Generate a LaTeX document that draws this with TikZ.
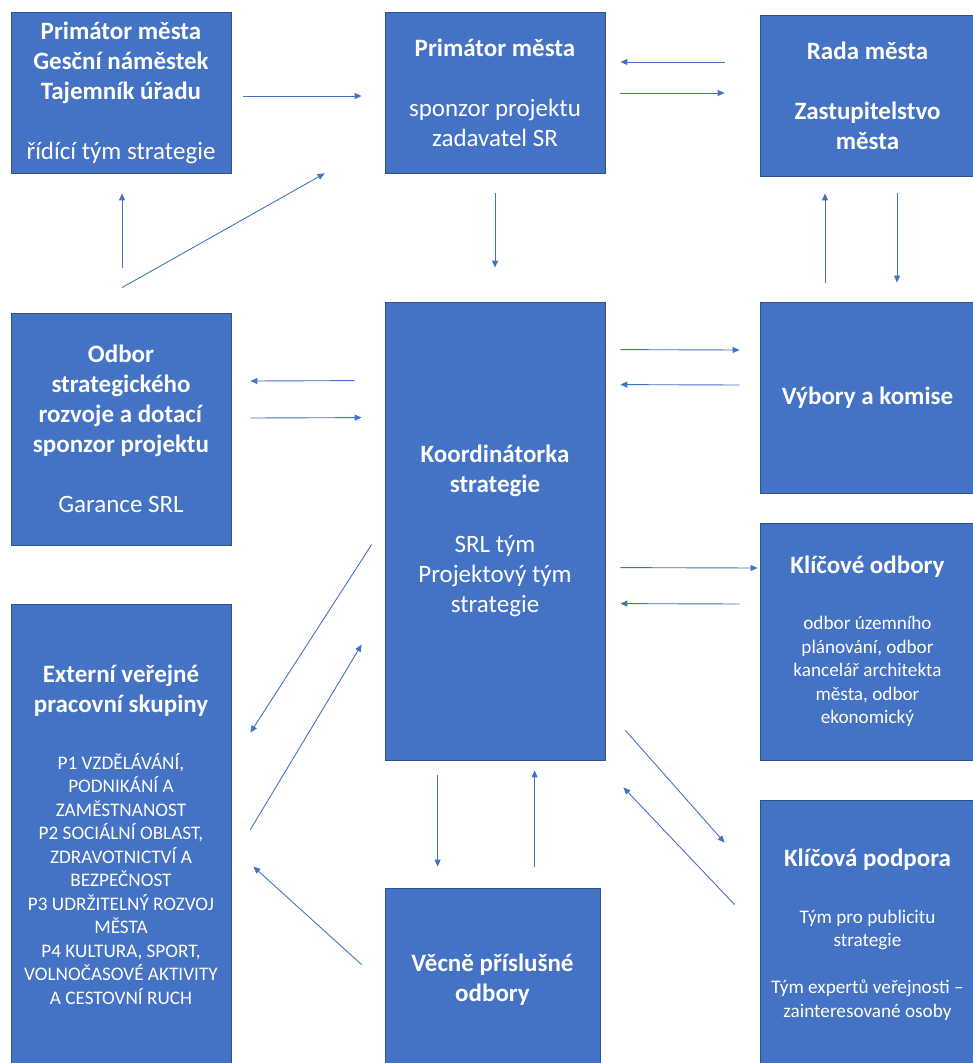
\documentclass[tikz,border=0pt]{standalone}
\usepackage{fontspec}
\setmainfont{Carlito}
\usetikzlibrary{arrows.meta}
\definecolor{boxblue}{HTML}{4472C4}
\definecolor{boxline}{HTML}{2F528F}
\definecolor{arrblue}{HTML}{4472C4}
\newcommand\BigTxt{\fontsize{25}{30}\selectfont}
\newcommand\SmallTxt{\fontsize{19.2}{23.5}\selectfont}
\begin{document}
\begin{tikzpicture}[x=1pt,y=-1pt,
  box/.style={draw=boxline, fill=boxblue, line width=0.8pt, text=white, inner sep=0pt, align=flush center, font=\BigTxt},
  lbox/.style={box, minimum width=220pt, text width=216pt},
  rbox/.style={box, minimum width=215pt, text width=212pt},
  arr/.style={draw=arrblue, line width=0.9pt, -{Triangle[length=7pt,width=6pt]}}]
\useasboundingbox (0,0) rectangle (972,1063);

\node[lbox, minimum height=161pt] (A) at (121,92.5)
  {\textbf{Primátor města}\\\textbf{Gesční náměstek}\\\textbf{Tajemník úřadu}\\[30pt]řídící tým strategie};
\node[lbox, minimum height=161pt] (B) at (495,92.5)
  {\textbf{Primátor města}\\[30pt]sponzor projektu\\zadavatel SR};
\node[rbox, minimum height=161pt] (C) at (867.5,95.5)
  {\bfseries Rada města\\[30pt]Zastupitelstvo\\města};
\node[lbox, minimum height=232pt] (D) at (121,429)
  {\textbf{Odbor}\\\textbf{strategického}\\\textbf{rozvoje a dotací}\\\textbf{sponzor projektu}\\[30pt]Garance SRL};
\node[lbox, minimum height=458pt] (E) at (495,531)
  {\textbf{Koordinátorka}\\\textbf{strategie}\\[30pt]SRL tým\\Projektový tým\\strategie};
\node[rbox, minimum height=191pt] (F) at (867.5,397.5)
  {\bfseries Výbory a komise};
\node[rbox, minimum height=237pt] (G) at (867.5,641.5)
  {{\bfseries Klíčové odbory\par}\vspace{33pt}{\SmallTxt odbor územního\\plánování, odbor\\kancelář architekta\\města, odbor\\ekonomický\par}};
\node[lbox, minimum height=462pt] (H) at (121,835)
  {{\bfseries Externí veřejné\\pracovní skupiny\par}\vspace{33pt}{\SmallTxt P1 VZDĚLÁVÁNÍ,\\PODNIKÁNÍ A\\ZAMĚSTNANOST\\P2 SOCIÁLNÍ OBLAST,\\ZDRAVOTNICTVÍ A\\BEZPEČNOST\\P3 UDRŽITELNÝ ROZVOJ\\MĚSTA\\P4 KULTURA, SPORT,\\VOLNOČASOVÉ AKTIVITY\\A CESTOVNÍ RUCH\par}};
\node[box, minimum width=215pt, text width=212pt, minimum height=184pt] (I) at (492.5,980)
  {\bfseries Věcně příslušné\\odbory};
\node[rbox, minimum height=270pt] (J) at (867.5,935)
  {{\bfseries Klíčová podpora\par}\vspace{33pt}{\SmallTxt Tým pro publicitu\\strategie\\[23.5pt]Tým expertů veřejnosti –\\zainteresované osoby\par}};

% arrows
\draw[arr] ([shift={(12,3.5)}]A.east) -- ([shift={(-23,3.5)}]B.west);
\draw[arr] ([shift={(-35,-33.5)}]C.west) -- ([shift={(15,-30.5)}]B.east);
\draw[arr] ([shift={(15,0.5)}]B.east) -- ([shift={(-35,-2.5)}]C.west);
\draw[arr] ([shift={(0,20)}]B.south) -- ([shift={(0,-34)}]E.north);
\draw[arr] ([shift={(1,-45)}]D.north) -- ([shift={(1,20)}]A.south);
\draw[arr] ([shift={(1,-25)}]D.north) -- ([shift={(-60,0)}]B.south west);
\draw[arr] ([shift={(-42.5,-19)}]F.north) -- ([shift={(-42.5,17)}]C.south);
\draw[arr] ([shift={(29.5,17)}]C.south) -- ([shift={(29.5,-19)}]F.north);
\draw[arr] ([shift={(15,48)}]E.north east) -- ([shift={(-20,-47.5)}]F.west);
\draw[arr] ([shift={(-20,-12.5)}]F.west) -- ([shift={(15,83)}]E.north east);
\draw[arr] ([shift={(-30,79)}]E.north west) -- ([shift={(19,-48)}]D.east);
\draw[arr] ([shift={(19,-11)}]D.east) -- ([shift={(-23,116)}]E.north west);
\draw[arr] ([shift={(15,266)}]E.north east) -- ([shift={(-2,-73.5)}]G.west);
\draw[arr] ([shift={(-20,-37.5)}]G.west) -- ([shift={(15,302)}]E.north east);
\draw[arr] ([shift={(-13,243)}]E.north west) -- ([shift={(19,129)}]H.north east);
\draw[arr] ([shift={(19,226)}]H.north east) -- ([shift={(-23,343)}]E.north west);
\draw[arr] ([shift={(-23,77)}]I.north west) -- ([shift={(22,263)}]H.north east);
\draw[arr] ([shift={(53,15)}]E.south west) -- ([shift={(53,-21)}]I.north west);
\draw[arr] ([shift={(150,-21)}]I.north west) -- ([shift={(150,10)}]E.south west);
\draw[arr] ([shift={(20,-30)}]E.south east) -- ([shift={(-35,43)}]J.north west);
\draw[arr] ([shift={(-25,105)}]J.north west) -- ([shift={(18,27)}]E.south east);
\end{tikzpicture}
\end{document}
